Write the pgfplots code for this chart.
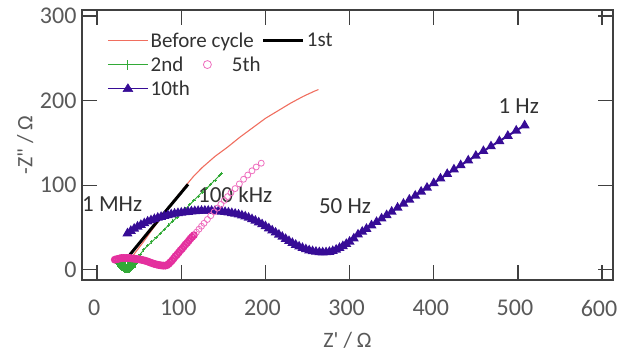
\documentclass[border=0pt]{standalone}
\usepackage{fontspec}
\setmainfont{Carlito}[Ligatures=TeXOff]
\usepackage{pgfplots}
\pgfplotsset{compat=1.18}
\definecolor{axgray}{RGB}{64,64,64}
\definecolor{lblgray}{RGB}{89,89,89}
\definecolor{annot}{RGB}{50,50,50}
\definecolor{cred}{RGB}{240,110,95}
\definecolor{cgreen}{RGB}{50,170,55}
\definecolor{cpink}{RGB}{228,48,158}
\definecolor{cpinklight}{RGB}{238,110,190}
\definecolor{cnavy}{RGB}{55,12,150}
\begin{document}
\begin{tikzpicture}
\begin{axis}[
 scale only axis, width=531pt, height=270pt,
 xmin=-18, xmax=613, ymin=-12, ymax=307,
 xtick={0,100,...,600}, ytick={0,100,200,300},
 axis line style={axgray, line width=1.3pt},
 major tick length=15pt, tick align=inside,
 every tick/.style={axgray, line width=1.3pt},
 tick label style={font=\fontsize{24}{29}\selectfont, text=lblgray},
 /pgf/number format/assume math mode=true,
 xticklabel style={anchor=center, yshift=-28pt, xshift=-3pt},
 yticklabel style={anchor=east, xshift=-2pt},
 xlabel={Z' / Ω}, ylabel={-Z" / Ω},
 every axis x label/.style={at={(axis description cs:0.5,-0.222)}, anchor=center},
 every axis y label/.style={at={(axis description cs:-0.107,0.5)}, rotate=90, anchor=center},
 label style={font=\fontsize{22}{26}\selectfont, text=lblgray},
 legend columns=2,
 legend cell align=left,
 legend style={at={(0.047,0.925)}, anchor=north west, draw=none, fill=none,
   font=\fontsize{21}{25}\selectfont, text=annot, inner sep=0pt, row sep=4pt,
   /tikz/every even column/.append style={column sep=6pt}},
]
\addlegendimage{legend image code/.code={\draw[cred, line width=1.1pt] (0pt,0pt) -- (40pt,0pt);}}
\addlegendentry{Before cycle}
\addlegendimage{legend image code/.code={\draw[black, line width=3pt] (0pt,0pt) -- (40pt,0pt);}}
\addlegendentry{1st}
\addlegendimage{legend image code/.code={\draw[cgreen, line width=1pt] (0pt,0pt) -- (40pt,0pt); \draw[cgreen, line width=1pt] (15pt,0pt) -- (25pt,0pt) (20pt,-5pt) -- (20pt,5pt);}}
\addlegendentry{2nd}
\addlegendimage{legend image code/.code={\path[draw=none, fill=none] (0pt,0pt) -- (40pt,0pt); \draw[overlay, cpinklight, line width=0.8pt] (-56pt,0pt) circle (4pt);}}
\addlegendentry{\makebox[18pt][l]{\hspace*{-75pt}5th}}
\addlegendimage{legend image code/.code={\draw[cnavy, line width=1.5pt] (0pt,0pt) -- (40pt,0pt); \fill[cnavy] (20pt,5pt) -- (25pt,-3pt) -- (15pt,-3pt) -- cycle;}}
\addlegendentry{10th}

% 2nd (start cluster)
\addplot[color=cgreen, line width=1.3pt, mark=+, mark size=4pt, forget plot] coordinates {
(26,8)(27,6)(28,4.5)(29,3.5)(30,3)(31,2.5)(32,2)(33,1.5)(34,1.2)(35,1)(36,1)(37,1.2)(38,1.5)(39,2)(40,2.5)(41,3.3)(42,4.5)(43,6)(44,7.5)(45,9.5)(44,11)(42,9)(40,7.5)(38,6.5)(36,6)(34,6)(32,6.5)(30,7.5)(28,9)(30,5)(33,4)(36,4)(39,4.5)(42,6.5)(45,9.5)
};
% 2nd (rest)
\addplot[color=cgreen, line width=0.9pt, mark=+, mark size=1.6pt, forget plot] coordinates {
(45,9.5)(48,15)(51,18)(55,23.5)(60,28.5)(65,33)(70,38)(75,43)(80,48)(85,53)(90,57.6)(95,62)(100,67)(105,72)(110,77)(115,82)(120,87)(125,92)(130,96)(135,101)(140,106)(145,111)(148,114)
};
% 10th
\addplot[color=cnavy, line width=2pt, mark=triangle*, mark size=3.8pt, forget plot] coordinates {
(36,43)(40,46)(44,48.5)(48,51)(52,53)(56,55)(60,57)(64,58.5)(68,60)(72,61.5)(76,62.5)(80,63.5)(84,64.5)(88,65.5)(92,66.3)(96,67)(100,67.5)(104,68)(108,68.5)(112,69)(116,69.3)(120,69.5)(124,69.7)(128,69.8)(132,69.8)(136,69.7)(140,69.5)(144,69.2)(148,68.8)(152,68.3)(156,67.7)(160,67)(164,66.2)(168,65.3)(172,64.2)(176,63)(180,61.5)(184,59.8)(188,58)(192,56)(196,53.8)(200,51.5)(204,49)(208,46.5)(212,44)(216,41.5)(220,39)(224,36.5)(228,34)(232,31.7)(236,29.5)(240,27.5)(244,25.8)(248,24.3)(252,23)(256,22)(260,21.3)(264,20.8)(268,20.6)(272,20.7)(276,21.2)(280,22.2)(284,23.8)(288,25.8)(292,28)(296,30.5)(300,33.2)(305,37)(310,41.7)(315,45)(320,48.4)(326,52.5)(332,56.5)(338,60.6)(344,64.6)(350,68.7)(357,73.4)(364,78.1)(371,82.9)(378,87.6)(385,92.3)(392,97)(400,102.4)(408,107.8)(416,113.2)(424,118.6)(432,123.6)(441,129.2)(450,134.7)(459,140.3)(468,145.9)(478,152.1)(488,158.3)(498,164.5)(508,170.7)
};
% 5th (dense part)
\addplot[color=cpink, only marks, mark=o, mark size=3pt, line width=1.8pt, forget plot] coordinates {
(21,12)(23,12.5)(25,13)(27,13.5)(29,14)(31,14)(33,14)(35,14)(37,14)(39,14)(41,13.5)(43,13.3)(45,13)(47,12.8)(49,12.5)(51,12.2)(53,11.8)(55,11.3)(57,10.8)(59,10.2)(61,9.5)(63,8.7)(65,8)(67,7.3)(69,6.7)(71,6.2)(73,5.8)(75,5.4)(77,5.1)(79,5)(81,5)(83,5.5)(85,7)(87,9)(89,11)(91,13.5)(93,16)(95,18)(97,20.5)(99,23)(101,25)(103,27.5)(105,30)(107,32)(109,34.5)(111,37)(113,39)(115,41)
};
% 5th (sparse part)
\addplot[color=cpinklight, only marks, mark=o, mark size=3pt, line width=0.8pt, forget plot] coordinates {
(118,44.5)(121,48)(124,51.5)(127,55)(131,59.5)(135,64)(139,68.5)(143,73)(147,77.5)(151,82)(155,86.5)(159,91)(164,96)(169,101.5)(174,107)(179,112)(184,117)(189,121.5)(195,126)
};
% Before cycle
\addplot[color=cred, line width=1.1pt, forget plot] coordinates {
(38,10)(45,20)(55,33)(65,47)(75,60)(85,73)(95,86)(105,99)(115,111)(125,121)(140,134)(155,145)(170,157)(185,168)(200,179)(215,188)(230,197)(245,205)(258,211)(263,213)
};
% 1st
\addplot[color=black, line width=3pt, forget plot] coordinates {
(39,18)(60,43.5)(85,73.5)(108,101)
};

\node[font=\fontsize{23}{27}\selectfont, text=annot] at (axis cs:17.8,78) {1 MHz};
\node[font=\fontsize{23}{27}\selectfont, text=annot] at (axis cs:164,88.6) {100 kHz};
\node[font=\fontsize{23}{27}\selectfont, text=annot] at (axis cs:294.5,75.5) {50 Hz};
\node[font=\fontsize{23}{27}\selectfont, text=annot] at (axis cs:501,193) {1 Hz};
\end{axis}
\pgfresetboundingbox
\path ([xshift=-82pt,yshift=-72pt]current axis.south west) rectangle ([xshift=6pt,yshift=10pt]current axis.north east);
\end{tikzpicture}
\end{document}
